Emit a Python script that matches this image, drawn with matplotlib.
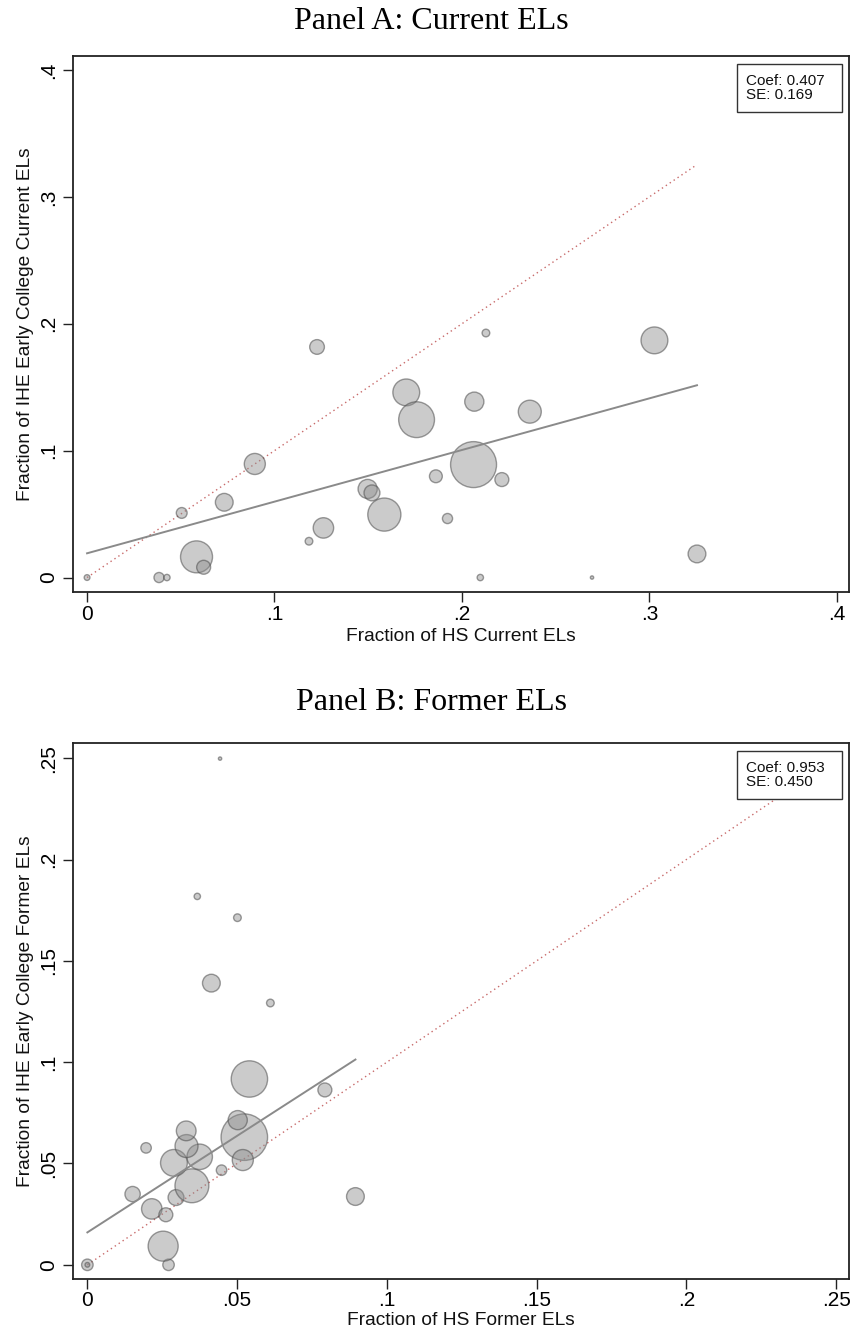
import numpy as np
import matplotlib
matplotlib.use("Agg")
import matplotlib.pyplot as plt
from matplotlib.patches import Rectangle

# ---------------- data ----------------
# Panel A: current ELs (x = HS share, y = IHE early college share, w = bubble weight)
a_x = [0.0, 0.0384, 0.0426, 0.0584, 0.0622, 0.0505, 0.0732, 0.0895, 0.1184, 0.1227,
       0.1261, 0.1497, 0.1520, 0.1586, 0.1703, 0.1758, 0.1861, 0.1923, 0.2062, 0.2066,
       0.2098, 0.2128, 0.2213, 0.2362, 0.2694, 0.3027, 0.3254]
a_y = [0.0, 0.0, 0.0, 0.0163, 0.0081, 0.0509, 0.0593, 0.0895, 0.0286, 0.1817,
       0.0391, 0.0698, 0.0667, 0.0496, 0.1459, 0.1244, 0.0798, 0.0465, 0.0890, 0.1386,
       0.0, 0.1927, 0.0772, 0.1307, 0.0, 0.1869, 0.0186]
a_w = [9, 28, 11, 279, 53, 32, 86, 121, 16, 59,
       114, 100, 69, 299, 196, 350, 45, 28, 576, 100,
       11, 16, 53, 144, 3, 196, 86]
a_coef, a_intercept, a_se = 0.407, 0.0191, 0.169

# Panel B: former ELs
b_x = [0.0, 0.0, 0.0271, 0.0253, 0.0215, 0.0262, 0.0151, 0.0296, 0.0349, 0.0196,
       0.0289, 0.0375, 0.0331, 0.0330, 0.0448, 0.0524, 0.0502, 0.0519, 0.0541, 0.0793,
       0.0895, 0.0414, 0.0611, 0.0501, 0.0367, 0.0443]
b_y = [0.0, 0.0, 0.0, 0.0092, 0.0276, 0.0247, 0.0349, 0.0332, 0.0390, 0.0577,
       0.0503, 0.0533, 0.0586, 0.0661, 0.0467, 0.0630, 0.0714, 0.0517, 0.0917, 0.0863,
       0.0337, 0.1390, 0.1292, 0.1713, 0.1818, 0.2498]
b_w = [36, 6, 36, 246, 114, 53, 64, 69, 313, 30,
       196, 177, 144, 106, 30, 590, 100, 121, 361, 53,
       86, 86, 16, 16, 11, 3]
b_coef, b_intercept, b_se = 0.953, 0.016, 0.450

a_ticks = [0, 0.1, 0.2, 0.3, 0.4]
a_ticklabels = ['0', '.1', '.2', '.3', '.4']
b_ticks = [0, 0.05, 0.1, 0.15, 0.2, 0.25]
b_ticklabels = ['0', '.05', '.1', '.15', '.2', '.25']

# ---------------- style ----------------
plt.rcParams['font.family'] = ['Liberation Sans', 'DejaVu Sans']
W, H = 851, 1337
fig = plt.figure(figsize=(W / 100, H / 100), dpi=100)

SIZE_K = 1.9
face = (0.55, 0.55, 0.55, 0.45)
edge = (0.30, 0.30, 0.30, 0.55)


def panel(rect, xs, ys, ws, coef, intercept, se, ticks, ticklabels, xlim, ylim,
          xlabel, ylabel, title, title_base_px, xlab_y):
    ax = fig.add_axes(rect)
    xs = np.asarray(xs); ys = np.asarray(ys); ws = np.asarray(ws)
    ax.scatter(xs, ys, s=ws * SIZE_K, facecolor=face, edgecolor=edge,
               linewidth=1.0, zorder=3)
    # fitted line
    xl = np.array([xs.min(), xs.max()])
    ax.plot(xl, intercept + coef * xl, color='#8a8a8a', lw=1.4, zorder=4)
    # 45-degree line
    m = max(xs.max(), ys.max())
    ax.plot([0, m], [0, m], color='#c86a6a', lw=1.0, linestyle=(0, (1, 2.4)), zorder=2)
    ax.set_xlim(*xlim)
    ax.set_ylim(*ylim)
    ax.set_xticks(ticks)
    ax.set_xticklabels(ticklabels)
    ax.set_yticks(ticks)
    ax.set_yticklabels(ticklabels, rotation=90, va='center')
    ax.tick_params(axis='both', length=7, width=1.0, color='#222222', labelsize=15,
                   labelcolor='black')
    ax.tick_params(axis='x', pad=2)
    ax.tick_params(axis='y', pad=4)
    for s in ax.spines.values():
        s.set_color('#222222')
        s.set_linewidth(1.3)
    ax.set_xlabel(xlabel, fontsize=13.8, color='#111111')
    ax.set_ylabel(ylabel, fontsize=13.8, color='#111111')
    ax.xaxis.set_label_coords(0.5, xlab_y)
    ax.yaxis.set_label_coords(-0.05, 0.5)
    # coefficient box
    hpx = rect[3] * H
    wpx = rect[2] * W
    top = 1 - 8 / hpx
    bot = 1 - 56 / hpx
    left = (737 - 73) / wpx
    right = (842 - 73) / wpx
    ax.add_patch(Rectangle((left, bot), right - left, top - bot, transform=ax.transAxes,
                           facecolor='white', edgecolor='#333333', lw=1.0, zorder=6))
    ax.text((746 - 73) / wpx, (top + bot) / 2, f'Coef: {coef:.3f}\nSE: {se:.3f}',
            transform=ax.transAxes, ha='left', va='center', fontsize=11,
            linespacing=0.95, zorder=7, color='#111111')
    fig.text(431 / W, 1 - title_base_px / H, title, ha='center', va='baseline',
             fontfamily=['Liberation Serif', 'DejaVu Serif'], fontsize=23)
    return ax


ax_l, ax_w = 73 / W, 776 / W
panel([ax_l, (H - 592) / H, ax_w, 536 / H], a_x, a_y, a_w, a_coef, a_intercept, a_se,
      a_ticks, a_ticklabels, (-0.0075, 0.4065), (-0.0114, 0.411),
      'Fraction of HS Current ELs', 'Fraction of IHE Early College Current ELs',
      'Panel A: Current ELs', 29, -0.067)
panel([ax_l, (H - 1279) / H, ax_w, 536 / H], b_x, b_y, b_w, b_coef, b_intercept, b_se,
      b_ticks, b_ticklabels, (-0.0048, 0.2543), (-0.0070, 0.2575),
      'Fraction of HS Former ELs', 'Fraction of IHE Early College Former ELs',
      'Panel B: Former ELs', 710, -0.062)

fig.savefig('out.png', dpi=100)
